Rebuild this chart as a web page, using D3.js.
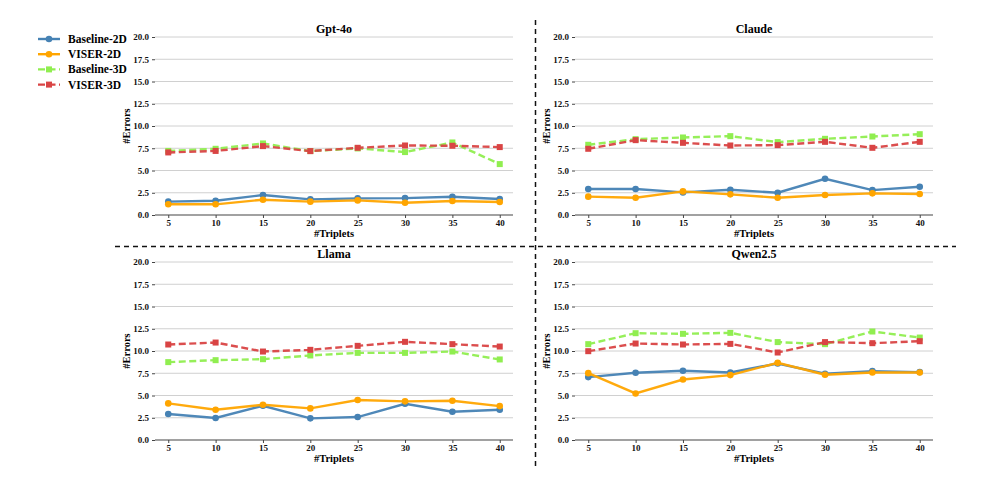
<!DOCTYPE html>
<html>
<head>
<meta charset="utf-8">
<script src="https://d3js.org/d3.v7.min.js"></script>
<style>
	body { margin: 0; background: #fff; }
	svg { font-family: "Liberation Serif", "Times New Roman", serif; font-weight: bold; }
	.grid line { stroke: #d0d0d0; stroke-width: 1; }
	.tick text { font-size: 9px; fill: #111; font-family: "Liberation Serif", serif; font-weight: bold; }
</style>
</head>
<body>
<svg width="996" height="491"></svg>
<script>
var triplets = [5, 10, 15, 20, 25, 30, 35, 40];
var yTicks = [0, 2.5, 5, 7.5, 10, 12.5, 15, 17.5, 20];
var seriesNames = ["Baseline-2D", "VISER-2D", "Baseline-3D", "VISER-3D"];
var seriesColors = ["#4682b4", "#ffa500", "#90ee50", "#d94444"];

var gptBase2d = [1.5, 1.6, 2.24, 1.76, 1.87, 1.9, 2.05, 1.8];
var gptViser2d = [1.2, 1.2, 1.72, 1.5, 1.64, 1.38, 1.57, 1.46];
var gptBase3d = [7.2, 7.44, 8.04, 7.18, 7.48, 7.07, 8.15, 5.72];
var gptViser3d = [7.03, 7.2, 7.74, 7.18, 7.55, 7.81, 7.78, 7.63];

var claudeBase2d = [2.92, 2.92, 2.54, 2.84, 2.5, 4.07, 2.8, 3.18];
var claudeViser2d = [2.06, 1.94, 2.65, 2.32, 1.94, 2.24, 2.43, 2.36];
var claudeBase3d = [7.89, 8.52, 8.71, 8.86, 8.19, 8.56, 8.82, 9.08];
var claudeViser3d = [7.44, 8.41, 8.11, 7.81, 7.85, 8.22, 7.55, 8.22];

var llamaBase2d = [2.92, 2.47, 3.85, 2.43, 2.58, 4.07, 3.18, 3.4];
var llamaViser2d = [4.11, 3.4, 3.96, 3.55, 4.49, 4.34, 4.41, 3.81];
var llamaBase3d = [8.75, 8.97, 9.08, 9.5, 9.79, 9.79, 9.94, 9.05];
var llamaViser3d = [10.73, 10.95, 9.94, 10.13, 10.58, 11.03, 10.77, 10.5];

var qwenBase2d = [7.07, 7.55, 7.78, 7.59, 8.6, 7.44, 7.74, 7.63];
var qwenViser2d = [7.51, 5.23, 6.8, 7.29, 8.67, 7.33, 7.59, 7.59];
var qwenBase3d = [10.77, 12.0, 11.93, 12.04, 11.0, 10.77, 12.19, 11.51];
var qwenViser3d = [9.98, 10.84, 10.73, 10.8, 9.83, 11.0, 10.88, 11.1];

var panels = [
	{title: "Gpt-4o", left: 155, top: 37, data: [gptBase2d, gptViser2d, gptBase3d, gptViser3d]},
	{title: "Claude", left: 575, top: 37, data: [claudeBase2d, claudeViser2d, claudeBase3d, claudeViser3d]},
	{title: "Llama", left: 155, top: 262, data: [llamaBase2d, llamaViser2d, llamaBase3d, llamaViser3d]},
	{title: "Qwen2.5", left: 575, top: 262, data: [qwenBase2d, qwenViser2d, qwenBase3d, qwenViser3d]}
];

var svg = d3.select("svg");
var pw = 358, ph = 178;
var serif = "'Liberation Serif', 'Times New Roman', serif";

panels.forEach(function(p) {
	var g = svg.append("g").attr("transform", "translate(" + p.left + "," + p.top + ")");
	var x = d3.scaleLinear().domain([3.6, 41.4]).range([0, pw]);
	var y = d3.scaleLinear().domain([0, 20]).range([ph, 0]);

	g.append("g").attr("class", "grid")
		.selectAll("line")
		.data(yTicks.slice(1))
		.enter()
		.append("line")
		.attr("x1", 0).attr("x2", pw)
		.attr("y1", d => y(d)).attr("y2", d => y(d));

	var yAxis = g.append("g")
		.call(d3.axisLeft(y).tickValues(yTicks).tickFormat(d3.format(".1f")).tickSize(3).tickPadding(3))
		.attr("font-family", serif);
	yAxis.select(".domain").remove();
	yAxis.selectAll(".tick line").attr("stroke", "#444");

	var xAxis = g.append("g")
		.attr("transform", "translate(0," + ph + ")")
		.call(d3.axisBottom(x).tickValues(triplets).tickSize(3).tickPadding(2))
		.attr("font-family", serif);
	xAxis.select(".domain").attr("stroke", "#444").attr("stroke-width", 1.2)
		.attr("d", "M0,0H" + pw);
	xAxis.selectAll(".tick line").attr("stroke", "#444");

	g.append("text")
		.attr("x", pw / 2).attr("y", -4)
		.attr("text-anchor", "middle")
		.style("font-size", "12px")
		.text(p.title);

	g.append("text")
		.attr("x", pw / 2).attr("y", ph + 22)
		.attr("text-anchor", "middle")
		.style("font-size", "10.5px")
		.text("#Triplets");

	g.append("text")
		.attr("transform", "translate(-25," + (ph / 2) + ") rotate(-90)")
		.attr("text-anchor", "middle")
		.style("font-size", "10.5px")
		.text("#Errors");

	var line = d3.line()
		.x((d, i) => x(triplets[i]))
		.y(d => y(d));

	p.data.forEach(function(vals, s) {
		var dashed = s >= 2;
		g.append("path")
			.attr("d", line(vals))
			.attr("fill", "none")
			.attr("stroke", seriesColors[s])
			.attr("stroke-width", 2.4)
			.attr("stroke-opacity", 0.95)
			.attr("stroke-dasharray", dashed ? "7,3.5" : null);
		if (dashed) {
			g.selectAll(null)
				.data(vals)
				.enter()
				.append("rect")
				.attr("x", (d, i) => x(triplets[i]) - 3)
				.attr("y", d => y(d) - 3)
				.attr("width", 6).attr("height", 6)
				.attr("fill", seriesColors[s]);
		} else {
			g.selectAll(null)
				.data(vals)
				.enter()
				.append("circle")
				.attr("cx", (d, i) => x(triplets[i]))
				.attr("cy", d => y(d))
				.attr("r", 3.3)
				.attr("fill", seriesColors[s]);
		}
	});
});

// separators
svg.append("line")
	.attr("x1", 115).attr("x2", 956).attr("y1", 246.5).attr("y2", 246.5)
	.attr("stroke", "#111").attr("stroke-width", 1.5).attr("stroke-dasharray", "5,4");
svg.append("line")
	.attr("x1", 535.5).attr("x2", 535.5).attr("y1", 20).attr("y2", 466)
	.attr("stroke", "#111").attr("stroke-width", 1.5).attr("stroke-dasharray", "5,4");

// legend
var legend = svg.append("g").attr("transform", "translate(38,39)");
seriesNames.forEach(function(name, s) {
	var row = legend.append("g").attr("transform", "translate(0," + (s * 15.2) + ")");
	row.append("line")
		.attr("x1", 0).attr("x2", 22)
		.attr("stroke", seriesColors[s]).attr("stroke-width", 2.4)
		.attr("stroke-dasharray", s >= 2 ? "7,3.5" : null);
	if (s >= 2) {
		row.append("rect").attr("x", 8).attr("y", -3).attr("width", 6).attr("height", 6).attr("fill", seriesColors[s]);
	} else {
		row.append("circle").attr("cx", 11).attr("r", 3.3).attr("fill", seriesColors[s]);
	}
	row.append("text")
		.attr("x", 30).attr("y", 4)
		.style("font-size", "11.5px")
		.text(name);
});
</script>
</body>
</html>
